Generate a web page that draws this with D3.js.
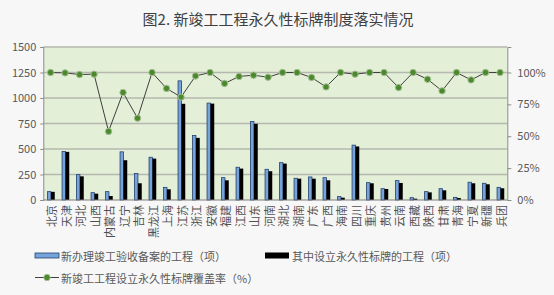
<!DOCTYPE html>
<html>
<head>
<meta charset="utf-8">
<script src="https://cdn.jsdelivr.net/npm/d3@7"></script>
<style>
  body { margin: 0; background: #f7f7f7; }
  text { font-family: 'Noto Sans CJK SC', 'Noto Sans', sans-serif; }
</style>
</head>
<body>
<div id="chart"></div>
<script>
let provinces = ['北京', '天津', '河北', '山西', '内蒙古', '辽宁', '吉林', '黑龙江', '上海', '江苏', '浙江', '安徽', '福建', '江西', '山东', '河南', '湖北', '湖南', '广东', '广西', '海南', '四川', '重庆', '贵州', '云南', '西藏', '陕西', '甘肃', '青海', '宁夏', '新疆', '兵团']

let filed = [82, 475, 249, 72, 82, 472, 259, 419, 124, 1168, 632, 950, 219, 321, 770, 301, 366, 213, 226, 219, 33, 538, 170, 111, 190, 23, 82, 111, 26, 174, 164, 124]

let withSign = [80, 472, 232, 62, 39, 390, 164, 406, 105, 943, 609, 945, 193, 308, 747, 282, 357, 209, 209, 193, 23, 525, 164, 108, 167, 13, 75, 95, 20, 164, 154, 115]

let coverage = [1.0, 0.997, 0.984, 0.987, 0.538, 0.843, 0.642, 1.0, 0.875, 0.807, 0.973, 1.0, 0.914, 0.969, 0.979, 0.963, 1.0, 1.0, 0.961, 0.887, 1.0, 0.987, 1.0, 1.0, 0.882, 1.0, 0.947, 0.856, 1.0, 0.942, 1.0, 1.0]

let leftTicks = [0, 250, 500, 750, 1000, 1250, 1500]
let rightTicks = [0, 0.25, 0.5, 0.75, 1]

let legendNames = ['新办理竣工验收备案的工程（项）', '其中设立永久性标牌的工程（项）', '新竣工工程设立永久性标牌覆盖率（%）']

let W = 554
let H = 295
let margin = { top: 47, left: 43.3, right: 46.7, bottom: 95 }
let width = W - margin.left - margin.right
let height = H - margin.top - margin.bottom

let svg = d3
  .select('#chart')
  .append('svg')
  .attr('width', W)
  .attr('height', H)

svg.append('rect').attr('width', W).attr('height', H).attr('fill', '#f7f7f7')

svg
  .append('text')
  .attr('x', 278)
  .attr('y', 25)
  .attr('text-anchor', 'middle')
  .attr('font-size', 15)
  .attr('fill', '#404040')
  .text('图2. 新竣工工程永久性标牌制度落实情况')

let g = svg
  .append('g')
  .attr('transform', 'translate(' + margin.left + ',' + margin.top + ')')

let x = d3.scaleBand().domain(provinces).range([0, width])

let sub = d3
  .scaleBand()
  .domain(['filed', 'sign'])
  .range([x.bandwidth() / 2 - 3.4, x.bandwidth() / 2 + 4.2])

let y = d3.scaleLinear().domain([0, 1500]).range([height, 0])
let y2 = d3.scaleLinear().domain([0, 1.2]).range([height, 0])

g.append('rect')
  .attr('width', width)
  .attr('height', height)
  .attr('fill', '#e4efd8')

// gridlines
g.selectAll('.grid')
  .data(leftTicks.slice(1))
  .enter()
  .append('line')
  .attr('class', 'grid')
  .attr('x1', 0)
  .attr('x2', width)
  .attr('y1', d => y(d))
  .attr('y2', d => y(d))
  .attr('stroke', '#b4b8ae')
  .attr('stroke-width', 1.4)

// left axis
let leftAxis = g.append('g').call(
  d3
    .axisLeft(y)
    .tickValues(leftTicks)
    .tickFormat(d3.format('d'))
    .tickSize(3)
    .tickPadding(4)
)
leftAxis.select('.domain').attr('stroke', '#8c8c8c')
leftAxis.selectAll('.tick line').attr('stroke', '#8c8c8c')
leftAxis
  .selectAll('.tick text')
  .attr('font-size', 11)
  .attr('fill', '#595959')
  .attr('font-family', "'Noto Sans', sans-serif")

// right axis
let rightAxis = g
  .append('g')
  .attr('transform', 'translate(' + width + ',0)')
  .call(
    d3
      .axisRight(y2)
      .tickValues(rightTicks)
      .tickFormat(d3.format('.0%'))
      .tickSize(4)
      .tickPadding(6)
  )
rightAxis.select('.domain').attr('stroke', '#8c8c8c')
rightAxis.selectAll('.tick line').attr('stroke', '#8c8c8c')
rightAxis
  .selectAll('.tick text')
  .attr('font-size', 11)
  .attr('fill', '#595959')
  .attr('font-family', "'Noto Sans', sans-serif")

// bars
let groups = g
  .selectAll('.prov')
  .data(provinces)
  .enter()
  .append('g')
  .attr('class', 'prov')
  .attr('transform', d => 'translate(' + x(d) + ',0)')

groups
  .append('rect')
  .attr('x', d => sub('filed') + 0.4)
  .attr('width', sub.bandwidth() - 0.4)
  .attr('y', (d, i) => y(filed[i]))
  .attr('height', (d, i) => height - y(filed[i]))
  .attr('fill', '#76a3da')
  .attr('stroke', '#24406e')
  .attr('stroke-width', 0.8)

groups
  .append('rect')
  .attr('x', d => sub('sign'))
  .attr('width', sub.bandwidth())
  .attr('y', (d, i) => y(withSign[i]))
  .attr('height', (d, i) => height - y(withSign[i]))
  .attr('fill', '#000')

// x axis line
g.append('line')
  .attr('x1', 0)
  .attr('x2', width)
  .attr('y1', height)
  .attr('y2', height)
  .attr('stroke', '#7f7f7f')

// category labels
g.selectAll('.label')
  .data(provinces)
  .enter()
  .append('text')
  .attr('class', 'label')
  .attr('text-anchor', 'end')
  .attr('dominant-baseline', 'central')
  .attr('font-size', 11)
  .attr('fill', '#505050')
  .attr('transform', d => `translate(${x(d) + x.bandwidth() / 2 + 0.5},${height + 5}) rotate(-90)`)
  .text(d => d)

// coverage line
let line = d3
  .line()
  .x((d, i) => x(provinces[i]) + x.bandwidth() / 2)
  .y(d => y2(d))

g.append('path')
  .datum(coverage)
  .attr('d', line)
  .attr('fill', 'none')
  .attr('stroke', '#404040')
  .attr('stroke-width', 1)

g.selectAll('.dot')
  .data(coverage)
  .enter()
  .append('circle')
  .attr('class', 'dot')
  .attr('cx', (d, i) => x(provinces[i]) + x.bandwidth() / 2)
  .attr('cy', d => y2(d))
  .attr('r', 3.2)
  .attr('fill', '#4b8a2c')
  .attr('stroke', '#a9bf98')
  .attr('stroke-width', 1)

// legend
let legend = svg.append('g')

legend
  .append('rect')
  .attr('x', 35)
  .attr('y', 253)
  .attr('width', 24)
  .attr('height', 5)
  .attr('fill', '#76a3da')
  .attr('stroke', '#24406e')
  .attr('stroke-width', 0.8)

legend
  .append('rect')
  .attr('x', 265)
  .attr('y', 252.5)
  .attr('width', 24)
  .attr('height', 6)
  .attr('fill', '#000')

legend
  .append('line')
  .attr('x1', 35)
  .attr('x2', 59)
  .attr('y1', 277.5)
  .attr('y2', 277.5)
  .attr('stroke', '#404040')

legend
  .append('circle')
  .attr('cx', 47)
  .attr('cy', 277.5)
  .attr('r', 3.2)
  .attr('fill', '#4b8a2c')
  .attr('stroke', '#a9bf98')

let legendPos = [[61, 256], [292, 256], [61, 278]]

legend
  .selectAll('.legend-text')
  .data(legendNames)
  .enter()
  .append('text')
  .attr('class', 'legend-text')
  .attr('x', (d, i) => legendPos[i][0])
  .attr('y', (d, i) => legendPos[i][1])
  .attr('dominant-baseline', 'central')
  .attr('font-size', 11)
  .attr('fill', '#595959')
  .text(d => d)
</script>
</body>
</html>
